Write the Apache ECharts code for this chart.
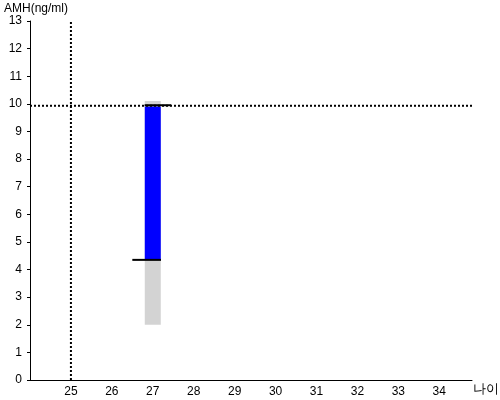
<!DOCTYPE html>
<html><head><meta charset="utf-8">
<script src="https://cdn.jsdelivr.net/npm/echarts@6/dist/echarts.min.js"></script>
<style>html,body{margin:0;padding:0;background:#fff}#c{width:500px;height:400px}</style>
</head><body><div id="c"></div>
<script>
// data
var xTickLabels = [25, 26, 27, 28, 29, 30, 31, 32, 33, 34];
var rangeX = [27];
var grayLow = [2.0];
var grayHigh = [10.1];
var blueLow = [4.35];
var blueHigh = [9.9];
var lowerMark = [[26.5, 4.35], [27.2, 4.35]];
var upperMark = [[26.8, 9.95], [27.45, 9.95]];
var refAge = 25;
var refAMH = 9.93;
var xMin = 24, xMax = 34.8, yMin = 0, yMax = 13;

var chart = echarts.init(document.getElementById('c'));
function rangeSeries(name, lows, highs, color) {
  return {
    type: 'custom', name: name,
    data: rangeX.map(function (x, i) { return [x, lows[i], highs[i]]; }),
    encode: { x: 0, y: [1, 2] },
    renderItem: function (params, api) {
      var lo = api.coord([api.value(0), api.value(1)]);
      var hi = api.coord([api.value(0), api.value(2)]);
      var w = 16;
      return { type: 'rect', shape: { x: lo[0] - w / 2, y: hi[1], width: w, height: lo[1] - hi[1] }, style: { fill: color } };
    },
    z: 2
  };
}
var font = 'Arial, "Liberation Sans", sans-serif';
chart.setOption({
  animation: false,
  grid: { left: 30, right: 28, top: 21, bottom: 20, containLabel: false, outerBoundsMode: 'none' },
  xAxis: {
    type: 'value', min: xMin, max: xMax, interval: 1,
    splitLine: { show: false },
    axisLine: { lineStyle: { color: '#000', width: 1 } },
    axisTick: { show: false },
    axisLabel: { color: '#000', fontSize: 12, fontFamily: font, margin: 6,
      formatter: function (v) { return xTickLabels.indexOf(v) >= 0 ? String(v) : ''; } },
    name: '나이', nameLocation: 'end', nameGap: 1,
    nameTextStyle: { color: '#000', fontSize: 13, fontFamily: font, verticalAlign: 'top', padding: [3, 0, 0, 0] }
  },
  yAxis: {
    type: 'value', min: yMin, max: yMax, interval: 1,
    splitLine: { show: false },
    axisLine: { show: true, lineStyle: { color: '#000', width: 1 } },
    axisTick: { show: true, length: 3, lineStyle: { color: '#000' } },
    axisLabel: { color: '#000', fontSize: 12, fontFamily: font, margin: 8 },
    name: 'AMH(ng/ml)', nameLocation: 'end', nameGap: 5,
    nameTextStyle: { color: '#000', fontSize: 12, fontFamily: font, align: 'left', padding: [0, 0, 0, -26] }
  },
  series: [
    rangeSeries('gray', grayLow, grayHigh, '#d3d3d3'),
    rangeSeries('blue', blueLow, blueHigh, '#0000ff'),
    { type: 'line', data: lowerMark, symbol: 'none', lineStyle: { color: '#000', width: 2 }, z: 4 },
    { type: 'line', data: upperMark, symbol: 'none', lineStyle: { color: '#000', width: 2 }, z: 4 },
    { type: 'line', data: [[xMin, refAMH], [35, refAMH]], symbol: 'none', clip: false,
      lineStyle: { color: '#000', width: 2, type: [2, 2] }, z: 3 },
    { type: 'line', data: [[refAge, yMin], [refAge, yMax]], symbol: 'none',
      lineStyle: { color: '#000', width: 2, type: [2, 2] }, z: 3 }
  ]
});
</script></body></html>
